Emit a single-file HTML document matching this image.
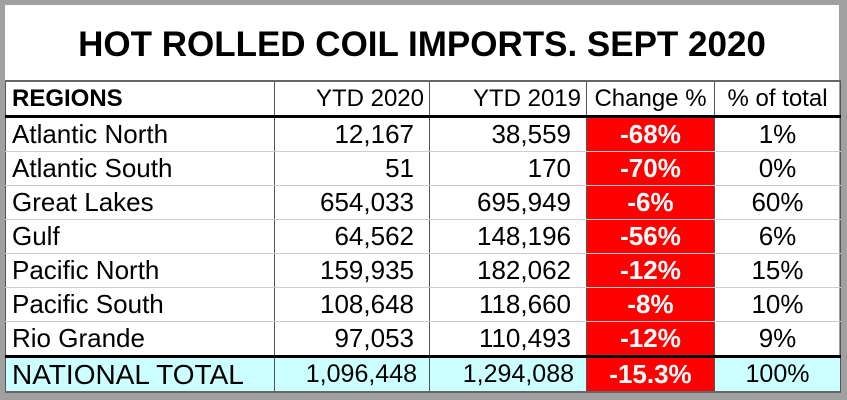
<!DOCTYPE html>
<html><head><meta charset="utf-8"><style>
body{margin:0;width:847px;height:400px;background:#a0a0a0;position:relative;overflow:hidden;font-family:"Liberation Sans",sans-serif}
#panel{position:absolute;left:5px;top:5px;width:834px;height:387px;background:#fff}
#title{position:absolute;left:5px;top:24px;width:834px;text-align:center;font-weight:bold;font-size:35px;line-height:42px}
table{position:absolute;left:5px;top:80px;border-collapse:collapse;font-size:26px;table-layout:fixed}
td{padding:0 6px;height:33px;line-height:33px;border-left:1px solid #555;border-right:1px solid #555;border-bottom:1px solid #ccc;white-space:nowrap;overflow:hidden}
tr.h td{border-top:2px solid #666;border-bottom:3px solid #000;height:31px;font-size:24px}
tr.h td.n{padding-right:5px}
td.n{text-align:right;padding-right:15px}
td.c{text-align:center}
td.r{background:#ff0000;color:#fff;font-weight:bold;text-align:center}
tr.t td{background:#ccffff;border-top:3px solid #000;border-bottom:2px solid #666;font-size:25px}
tr.t td.first{font-size:28px}
tr.t td.n{padding-right:12px}
tr.t td.r{background:#ff0000;font-size:26px}
</style></head><body>
<div id="panel"></div>
<div id="title">HOT ROLLED COIL IMPORTS. SEPT 2020</div>
<table>
<colgroup><col style="width:269px"><col style="width:155px"><col style="width:157px"><col style="width:128px"><col style="width:126px"></colgroup>
<tr class="h"><td style="font-weight:bold">REGIONS</td><td class="n">YTD 2020</td><td class="n">YTD 2019</td><td class="c">Change %</td><td class="c">% of total</td></tr>
<tr><td>Atlantic North</td><td class="n">12,167</td><td class="n">38,559</td><td class="r">-68%</td><td class="c">1%</td></tr>
<tr><td>Atlantic South</td><td class="n">51</td><td class="n">170</td><td class="r">-70%</td><td class="c">0%</td></tr>
<tr><td>Great Lakes</td><td class="n">654,033</td><td class="n">695,949</td><td class="r">-6%</td><td class="c">60%</td></tr>
<tr><td>Gulf</td><td class="n">64,562</td><td class="n">148,196</td><td class="r">-56%</td><td class="c">6%</td></tr>
<tr><td>Pacific North</td><td class="n">159,935</td><td class="n">182,062</td><td class="r">-12%</td><td class="c">15%</td></tr>
<tr><td>Pacific South</td><td class="n">108,648</td><td class="n">118,660</td><td class="r">-8%</td><td class="c">10%</td></tr>
<tr><td>Rio Grande</td><td class="n">97,053</td><td class="n">110,493</td><td class="r">-12%</td><td class="c">9%</td></tr>
<tr class="t"><td class="first">NATIONAL TOTAL</td><td class="n">1,096,448</td><td class="n">1,294,088</td><td class="r">-15.3%</td><td class="c">100%</td></tr>
</table>
</body></html>
